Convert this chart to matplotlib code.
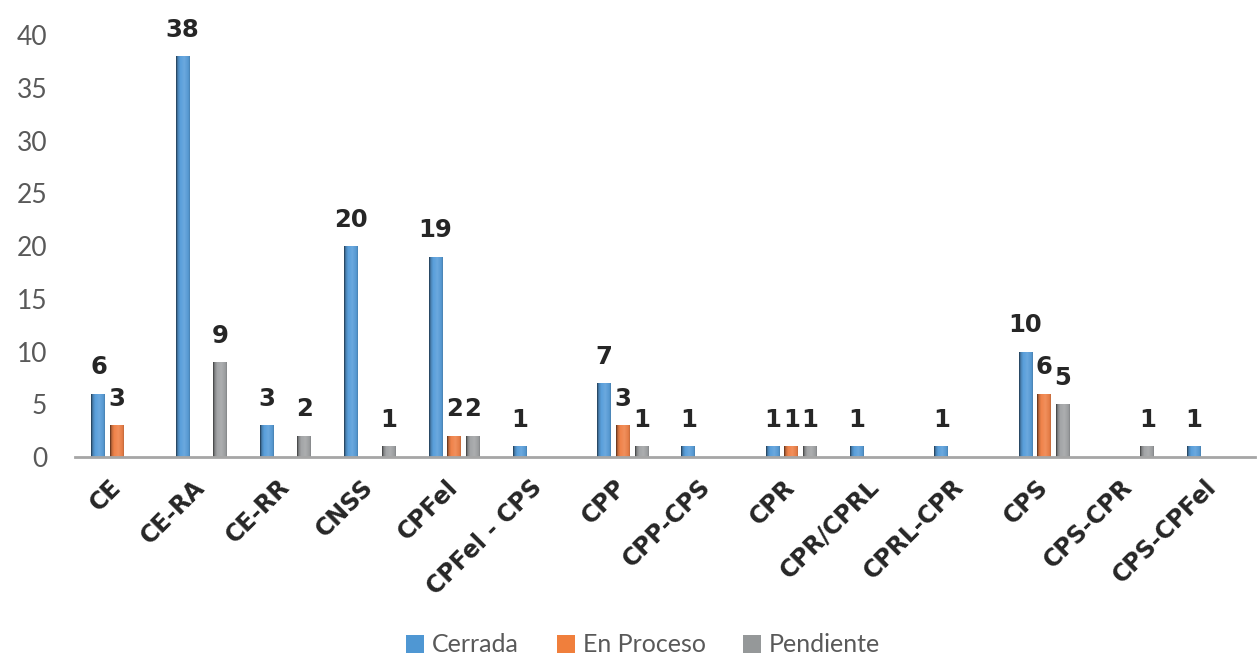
import matplotlib
matplotlib.use("Agg")
import matplotlib.pyplot as plt
import numpy as np
from matplotlib.colors import LinearSegmentedColormap, to_rgb
from matplotlib.patches import Patch

categories = ["CE", "CE-RA", "CE-RR", "CNSS", "CPFel", "CPFel - CPS", "CPP",
              "CPP-CPS", "CPR", "CPR/CPRL", "CPRL-CPR", "CPS", "CPS-CPR", "CPS-CPFel"]
cerrada = [6, 38, 3, 20, 19, 1, 7, 1, 1, 1, 1, 10, 0, 1]
en_proceso = [3, 0, 0, 0, 2, 0, 3, 0, 1, 0, 0, 6, 0, 0]
pendiente = [0, 9, 2, 1, 2, 0, 1, 0, 1, 0, 0, 5, 1, 0]
series_names = ["Cerrada", "En Proceso", "Pendiente"]
yticks = [0, 5, 10, 15, 20, 25, 30, 35, 40]

colors = ["#5A9FDB", "#F0834A", "#A3A5A7"]
legend_colors = ["#4F97D3", "#F07F3C", "#959899"]

plt.rcParams['font.family'] = ['Lato', 'DejaVu Sans']

fig = plt.figure(figsize=(12.59, 6.67), dpi=100)
ax = fig.add_axes([0.0596, 0.3148, 0.9372, 0.6327])

x = np.arange(len(categories))
w = 0.166
step = 0.222

def shade(c, f):
    r = np.array(to_rgb(c))
    if f < 1:
        return tuple(r * f)
    return tuple(r + (1 - r) * (f - 1))

for i, (vals, c) in enumerate(zip([cerrada, en_proceso, pendiente], colors)):
    bars = ax.bar(x + (i - 1) * step, vals, width=w, color=c, edgecolor='none', zorder=2)
    cmap = LinearSegmentedColormap.from_list(
        "g%d" % i,
        [(0.0, shade(c, 0.35)), (0.12, shade(c, 0.8)), (0.3, shade(c, 1.0)),
         (0.6, shade(c, 1.1)), (0.9, shade(c, 0.95)), (1.0, shade(c, 0.8))])
    grad = np.linspace(0, 1, 64).reshape(1, -1)
    for b, v in zip(bars, vals):
        if v <= 0:
            continue
        x0, y0 = b.get_x(), b.get_y()
        im = ax.imshow(grad, cmap=cmap, aspect='auto', zorder=3,
                       extent=[x0, x0 + b.get_width(), y0, y0 + b.get_height()])
        im.set_clip_path(b)
        ax.annotate(str(v), (b.get_x() + b.get_width() / 2, v),
                    xytext=(0, 14), textcoords='offset points',
                    ha='center', va='baseline', fontsize=17.5, fontweight='bold',
                    family='DejaVu Sans', color='#262626', annotation_clip=False)

ax.set_xlim(-0.5, len(categories) - 0.5)
ax.set_ylim(0, 40)
ax.set_yticks(yticks)
ax.set_yticklabels([str(t) for t in yticks], fontsize=19, color='#595959')
ax.set_xticks(x)
ax.set_xticklabels(categories, rotation=45, ha='right', va='center',
                   rotation_mode='anchor', fontsize=17, fontweight='bold',
                   family='DejaVu Sans', color='#262626')
ax.tick_params(axis='both', length=0)
ax.tick_params(axis='x', pad=19)
ax.tick_params(axis='y', pad=20)
for s in ['top', 'right', 'left']:
    ax.spines[s].set_visible(False)
ax.spines['bottom'].set_color('#A6A6A6')
ax.spines['bottom'].set_linewidth(2)
ax.spines['bottom'].set_zorder(4)

handles = [Patch(facecolor=c, edgecolor='none') for c in legend_colors]
fig.legend(handles, series_names, loc='center', bbox_to_anchor=(0.511, 0.033),
           ncol=3, frameon=False, fontsize=18, labelcolor='#595959',
           handlelength=0.72, handleheight=0.72, columnspacing=1.5, handletextpad=0.32)

fig.savefig("out.png", dpi=100)
